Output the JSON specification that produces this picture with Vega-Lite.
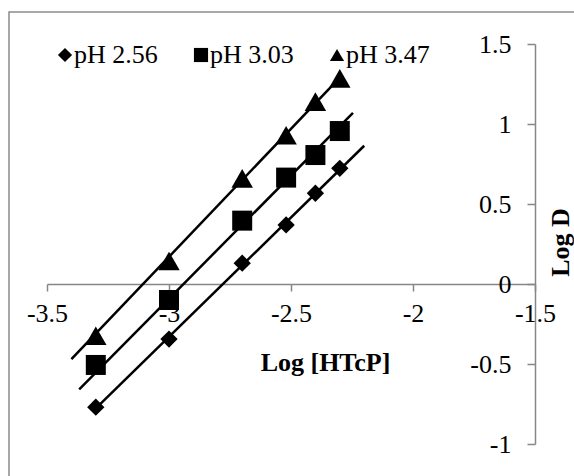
{
  "$schema": "https://vega.github.io/schema/vega-lite/v6.json",
  "width": 570,
  "height": 470,
  "autosize": {"type": "none"},
  "padding": {"left": 9, "top": 12, "right": 0, "bottom": 0},
  "background": "white",
  "config": {
    "view": {"stroke": "#8c8c8c", "strokeWidth": 1.5},
    "font": "Liberation Serif"
  },
  "datasets": {
    "points": [
      {"series": "pH 2.56", "x": -3.3, "y": -0.77},
      {"series": "pH 2.56", "x": -3.0, "y": -0.344},
      {"series": "pH 2.56", "x": -2.7, "y": 0.13},
      {"series": "pH 2.56", "x": -2.52, "y": 0.369},
      {"series": "pH 2.56", "x": -2.4, "y": 0.567},
      {"series": "pH 2.56", "x": -2.3, "y": 0.723},
      {"series": "pH 3.03", "x": -3.3, "y": -0.506},
      {"series": "pH 3.03", "x": -3.0, "y": -0.1},
      {"series": "pH 3.03", "x": -2.7, "y": 0.396},
      {"series": "pH 3.03", "x": -2.52, "y": 0.665},
      {"series": "pH 3.03", "x": -2.4, "y": 0.806},
      {"series": "pH 3.03", "x": -2.3, "y": 0.956},
      {"series": "pH 3.47", "x": -3.3, "y": -0.323},
      {"series": "pH 3.47", "x": -3.0, "y": 0.144},
      {"series": "pH 3.47", "x": -2.7, "y": 0.66},
      {"series": "pH 3.47", "x": -2.52, "y": 0.93},
      {"series": "pH 3.47", "x": -2.4, "y": 1.14},
      {"series": "pH 3.47", "x": -2.3, "y": 1.285}
    ],
    "trend": [
      {"series": "pH 2.56", "x": -3.3, "y": -0.778},
      {"series": "pH 2.56", "x": -2.2, "y": 0.864},
      {"series": "pH 3.03", "x": -3.368, "y": -0.658},
      {"series": "pH 3.03", "x": -2.246, "y": 1.069},
      {"series": "pH 3.47", "x": -3.4, "y": -0.47},
      {"series": "pH 3.47", "x": -2.3, "y": 1.29}
    ]
  },
  "encoding": {
    "x": {
      "field": "x",
      "type": "quantitative",
      "scale": {"domain": [-3.5, -1.5], "range": [38, 526], "nice": false, "zero": false},
      "axis": {
        "orient": "bottom",
        "offset": -198,
        "values": [-3.5, -3, -2.5, -2, -1.5],
        "format": ".1~f",
        "labelExpr": "replace(datum.label, '\u2212', '-')",
        "grid": false,
        "domainColor": "#868686",
        "domainWidth": 1.5,
        "tickColor": "#868686",
        "tickWidth": 1.5,
        "tickSize": 7,
        "labelFont": "Liberation Serif",
        "labelFontSize": 26,
        "labelColor": "black",
        "labelPadding": 9,
        "labelFlush": false,
        "labelOverlap": false,
        "title": "Log [HTcP]",
        "titleFont": "Liberation Serif",
        "titleFontSize": 26,
        "titleFontWeight": "bold",
        "titleColor": "black",
        "titleX": 316,
        "titleY": 78,
        "titleBaseline": "middle"
      }
    },
    "y": {
      "field": "y",
      "type": "quantitative",
      "scale": {"domain": [-1, 1.5], "range": [432, 32], "nice": false, "zero": false},
      "axis": {
        "orient": "left",
        "offset": -526,
        "values": [-1, -0.5, 0, 0.5, 1, 1.5],
        "format": ".1~f",
        "labelExpr": "replace(datum.label, '\u2212', '-')",
        "grid": false,
        "domainColor": "#868686",
        "domainWidth": 1.5,
        "tickColor": "#868686",
        "tickWidth": 1.5,
        "tickSize": 8,
        "labelFont": "Liberation Serif",
        "labelFontSize": 26,
        "labelColor": "black",
        "labelPadding": 16,
        "labelBaseline": "middle",
        "labelFlush": false,
        "labelOverlap": false,
        "title": "Log D",
        "titleFont": "Liberation Serif",
        "titleFontSize": 26,
        "titleFontWeight": "bold",
        "titleColor": "black",
        "titleAngle": 270,
        "titleX": 25,
        "titleY": 230,
        "titleBaseline": "middle"
      }
    },
    "shape": {
      "field": "series",
      "type": "nominal",
      "scale": {"domain": ["pH 2.56", "pH 3.03", "pH 3.47"], "range": ["diamond", "square", "triangle-up"]},
      "legend": {
        "orient": "none",
        "legendX": 43,
        "legendY": 30,
        "direction": "horizontal",
        "title": null,
        "padding": 0,
        "labelFont": "Liberation Serif",
        "labelFontSize": 26,
        "labelColor": "black",
        "labelOffset": -4,
        "columnPadding": 30,
        "symbolSize": 200,
        "symbolFillColor": "black",
        "symbolStrokeWidth": 0
      }
    }
  },
  "layer": [
    {
      "data": {"name": "trend"},
      "mark": {"type": "line", "color": "black", "strokeWidth": 2.5},
      "encoding": {"shape": null, "detail": {"field": "series", "type": "nominal"}}
    },
    {
      "data": {"name": "points"},
      "transform": [{"filter": "datum.series === 'pH 2.56'"}],
      "mark": {"type": "point", "filled": true, "color": "black", "opacity": 1, "strokeWidth": 0, "size": 300}
    },
    {
      "data": {"name": "points"},
      "transform": [{"filter": "datum.series === 'pH 3.03'"}],
      "mark": {"type": "point", "filled": true, "color": "black", "opacity": 1, "strokeWidth": 0, "size": 400}
    },
    {
      "data": {"name": "points"},
      "transform": [{"filter": "datum.series === 'pH 3.47'"}],
      "mark": {"type": "point", "filled": true, "color": "black", "opacity": 1, "strokeWidth": 0, "size": 460}
    }
  ]
}
